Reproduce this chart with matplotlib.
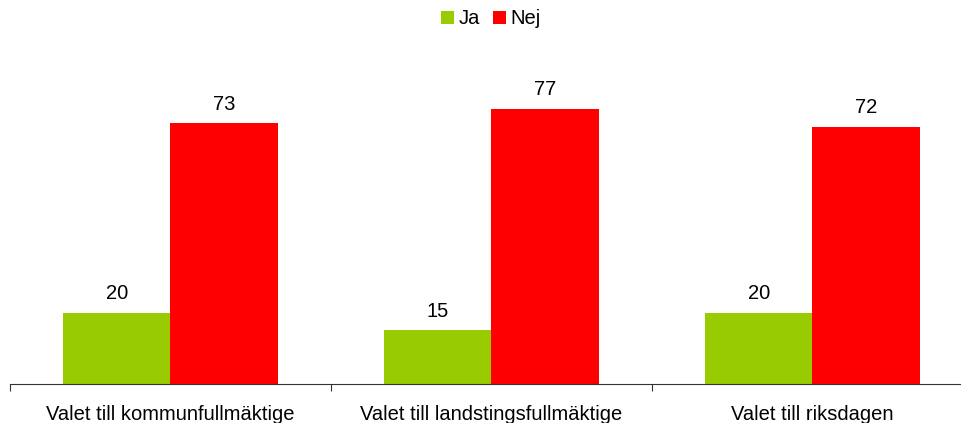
import matplotlib
matplotlib.use('Agg')
import matplotlib.pyplot as plt
import numpy as np

plt.rcParams['font.family'] = ['Liberation Sans', 'DejaVu Sans']

categories = ['Valet till kommunfullmäktige', 'Valet till landstingsfullmäktige', 'Valet till riksdagen']
ja = [20, 15, 20]
nej = [73, 77, 72]
series_names = ['Ja', 'Nej']
colors = ['#99CC00', '#FF0000']

W, H = 962, 423
fs = 14.5
fig = plt.figure(figsize=(W / 100, H / 100), dpi=100)
# axes spans beyond right edge like the original
ax = fig.add_axes([10 / W, (H - 384) / H, 963 / W, 320 / H])

x = np.arange(len(categories))
bw = 0.334
b1 = ax.bar(x - bw / 2, ja, bw, color=colors[0], label=series_names[0])
b2 = ax.bar(x + bw / 2, nej, bw, color=colors[1], label=series_names[1])

for bars in (b1, b2):
    for r in bars:
        ax.text(r.get_x() + r.get_width() / 2, r.get_height() + 2.6, str(int(r.get_height())),
                ha='center', va='bottom', fontsize=fs, color='black')

ax.set_xlim(-0.5, 2.5)
ax.set_ylim(0, 320 / 3.575)
ax.set_xticks([-0.5, 0.5, 1.5, 2.5])
ax.set_xticklabels([])
ax.set_xticks(x, minor=True)
ax.set_xticklabels(categories, minor=True, fontsize=fs)
ax.tick_params(axis='x', which='minor', length=0, pad=15)
ax.tick_params(axis='x', which='major', length=5, direction='out', color='#333333')
ax.set_yticks([])
for s in ['top', 'right', 'left']:
    ax.spines[s].set_visible(False)
ax.spines['bottom'].set_color('#333333')

fig.legend(handles=[b1, b2], labels=series_names, loc='center', bbox_to_anchor=(491 / W, 1 - 19 / H),
           ncol=2, frameon=False, fontsize=fs, handlelength=0.65, handleheight=0.65,
           handletextpad=0.25, columnspacing=0.6)

fig.savefig('out.png', dpi=100)
